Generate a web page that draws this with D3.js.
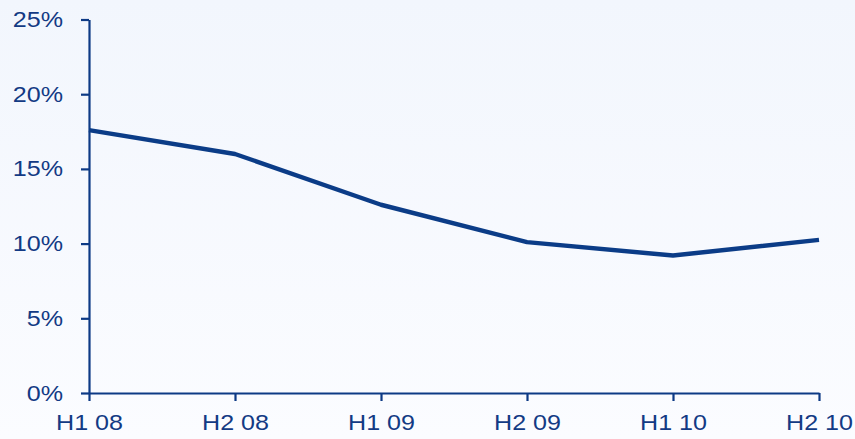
<!DOCTYPE html>
<html>
<head>
<meta charset="utf-8">
<script src="https://cdn.jsdelivr.net/npm/d3@7"></script>
<style>
  html, body { margin: 0; padding: 0; background: #f7f9fd; }
  svg { display: block; }
</style>
</head>
<body>
<svg id="chart" width="855" height="439"></svg>
<script>
// Half-year periods and the rate for each
const periods = ["H1 08", "H2 08", "H1 09", "H2 09", "H1 10", "H2 10"];
const rates = [17.6, 16.0, 12.6, 10.1, 9.2, 10.25];
const yTicks = [0, 5, 10, 15, 20, 25];

const W = 855, H = 439;
const margin = { left: 89, right: 36, top: 19.5, bottom: 46 };
const ink = "#0d3a85";
const textInk = "#133a84";
const fontSize = 22;
const stretch = 1.14;

const svg = d3.select("#chart");

// soft vertical background wash
const defs = svg.append("defs");
const grad = defs.append("linearGradient")
  .attr("id", "bg").attr("x1", 0).attr("y1", 0).attr("x2", 0).attr("y2", 1);
grad.append("stop").attr("offset", "0%").attr("stop-color", "#f2f6fd");
grad.append("stop").attr("offset", "100%").attr("stop-color", "#fbfcff");
svg.append("rect").attr("width", W).attr("height", H).attr("fill", "url(#bg)");

const x = d3.scalePoint()
  .domain(periods)
  .range([margin.left, W - margin.right]);

const y = d3.scaleLinear()
  .domain([0, 25])
  .range([H - margin.bottom, margin.top]);

// y axis
const yAxis = svg.append("g")
  .attr("transform", `translate(${margin.left},0)`)
  .call(d3.axisLeft(y).tickValues(yTicks).tickFormat(d => d + "%")
    .tickSize(8).tickSizeOuter(0).tickPadding(18));

// x axis
const xAxis = svg.append("g")
  .attr("transform", `translate(0,${H - margin.bottom})`)
  .call(d3.axisBottom(x).tickSize(8).tickSizeOuter(0).tickPadding(13));

[yAxis, xAxis].forEach(g => {
  g.select(".domain").attr("stroke", ink).attr("stroke-width", 2.2);
  g.selectAll(".tick line").attr("stroke", ink).attr("stroke-width", 2.2);
  g.selectAll(".tick text")
    .attr("fill", textInk)
    .style("font-family", "'Liberation Sans', Arial, sans-serif")
    .style("font-size", fontSize + "px");
});

// widen the glyphs horizontally, anchored where the axis placed them
yAxis.selectAll(".tick text").each(function () {
  const t = d3.select(this);
  const tx = +t.attr("x");
  t.attr("x", 0).attr("transform", `translate(${tx},0) scale(${stretch},1)`);
});
xAxis.selectAll(".tick text").each(function () {
  const t = d3.select(this);
  const ty = +t.attr("y");
  t.attr("y", 0).attr("transform", `translate(0,${ty}) scale(${stretch},1)`);
});

// the rate line
const line = d3.line()
  .x((d, i) => x(periods[i]))
  .y(d => y(d));

svg.append("path")
  .datum(rates)
  .attr("fill", "none")
  .attr("stroke", "#0b3c87")
  .attr("stroke-width", 4.4)
  .attr("stroke-linejoin", "round")
  .attr("stroke-linecap", "butt")
  .attr("d", line);
</script>
</body>
</html>
